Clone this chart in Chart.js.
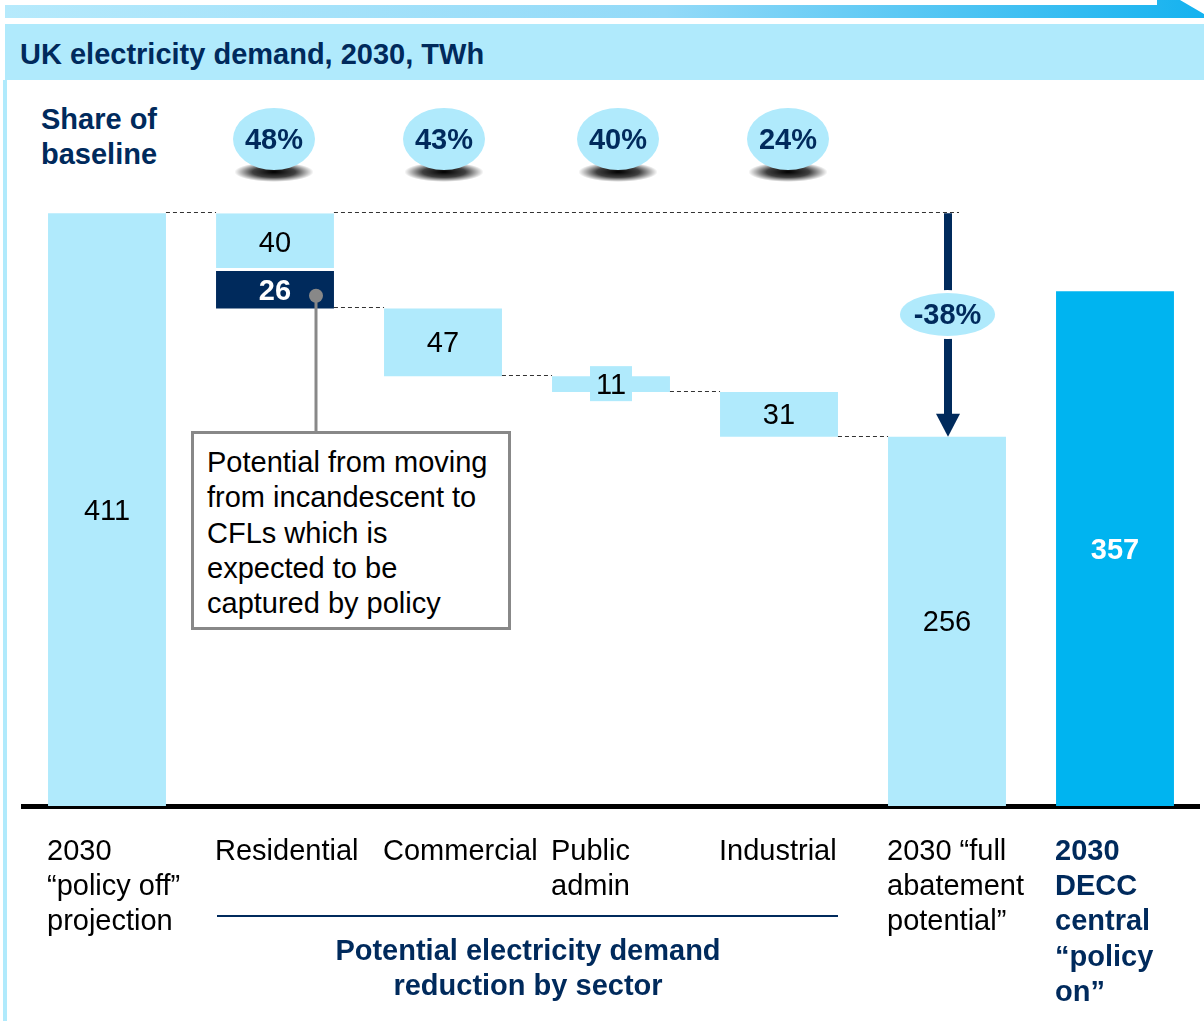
<!DOCTYPE html>
<html>
<head>
<meta charset="utf-8">
<script src="https://cdn.jsdelivr.net/npm/chart.js@4.4.0/dist/chart.umd.min.js"></script>
<style>
  body { margin: 0; width: 1204px; height: 1021px; overflow: hidden; background: #fff;
         font-family: "Liberation Sans", Arial, sans-serif; position: relative; }
  .abs { position: absolute; }
  #topband { left: 5px; top: 0; width: 1199px; height: 18px;
             background: linear-gradient(to right, #b6eafc, #93daf8 55%, #15b2ef);
             clip-path: polygon(0 5px, 1152px 5px, 1152px 0, 1175px 0, 1199px 14px, 1199px 18px, 0 18px); }
  #head { left: 5px; top: 24px; width: 1199px; height: 56px; background: #b0eafc; }
  #title { left: 20px; top: 38px; font-weight: bold; font-size: 29px; color: #002a5c; }
  #leftline { left: 3px; top: 80px; width: 4px; height: 941px; background: #b0eafc; }
  #share { left: 41px; top: 102px; font-weight: bold; font-size: 29px; line-height: 35px; color: #002a5c; }
  .bubble { background: #b0eafc; border-radius: 50%; color: #002a5c; font-weight: bold;
            font-size: 29px; display: flex; align-items: center; justify-content: center; }
  .shadow { border-radius: 50%;
            background: radial-gradient(ellipse at center, rgba(0,0,0,1) 0%, rgba(0,0,0,0.75) 38%, rgba(0,0,0,0) 70%); }
  #callout { left: 191px; top: 431px; width: 314px; height: 193px; border: 3px solid #888; background: #fff;
             font-size: 29px; line-height: 35.3px; color: #000; padding: 0; }
  #callout div { position: absolute; left: 13px; top: 11px; }
  #sectorline { left: 217px; top: 915px; width: 621px; height: 2px; background: #002a5c; }
  #sectornote { left: 278px; top: 933px; width: 500px; text-align: center; font-weight: bold;
                font-size: 29px; line-height: 35px; color: #002a5c; }
  #wrap { left: 0; top: 0; width: 1204px; height: 1021px; }
</style>
</head>
<body>
<div id="topband" class="abs"></div>
<div id="head" class="abs"></div>
<div id="title" class="abs">UK electricity demand, 2030, TWh</div>
<div id="leftline" class="abs"></div>
<div id="share" class="abs">Share of<br>baseline</div>
<div id="wrap" class="abs"><canvas id="chart" width="1204" height="1021"></canvas></div>
<div id="bubbles"></div>
<div id="callout" class="abs"><div>Potential from moving<br>from incandescent to<br>CFLs which is<br>expected to be<br>captured by policy</div></div>
<div id="sectorline" class="abs"></div>
<div id="sectornote" class="abs">Potential electricity demand<br>reduction by sector</div>
<script>
// categories along the bottom
const categories = [
  ['2030', '\u201cpolicy off\u201d', 'projection'],
  ['Residential'],
  ['Commercial'],
  ['Public', 'admin'],
  ['Industrial'],
  ['2030 \u201cfull', 'abatement', 'potential\u201d'],
  ['2030', 'DECC', 'central', '\u201cpolicy', 'on\u201d']
];
// TWh
const totals = [411, null, null, null, null, 256, 357];
const savings = [null, 40, 47, 11, 31, null, null];      // reduction by sector
const cflSavings = [null, 26, null, null, null, null, null]; // CFL part of residential
// share of baseline bubbles (one per sector)
const shares = ['48%', '43%', '40%', '24%'];
const abatementShare = '-38%';

const LIGHT = '#b0eafc', NAVY = '#002a5c', BRIGHT = '#00b4f0';

// build floating bars for the waterfall
let level = totals[0];
const savingBars = [], cflBars = [], levels = [level];
for (let i = 0; i < categories.length; i++) {
  if (savings[i] == null) { savingBars.push(null); cflBars.push(null); continue; }
  const top = level;
  savingBars.push([top - savings[i], top]);
  level = top - savings[i];
  if (cflSavings[i] != null) {
    cflBars.push([level - cflSavings[i], level]);
    level -= cflSavings[i];
  } else cflBars.push(null);
  levels.push(level);
}

const ctx = document.getElementById('chart').getContext('2d');

const waterfallPlugin = {
  id: 'waterfall',
  afterDatasetsDraw(chart) {
    const c = chart.ctx, y = chart.scales.y, x = chart.scales.x;
    const m0 = chart.getDatasetMeta(0).data, m1 = chart.getDatasetMeta(1).data, m2 = chart.getDatasetMeta(2).data;
    const half = m0[0].width / 2;
    const left = i => x.getPixelForValue(i) - half, right = i => x.getPixelForValue(i) + half;
    c.save();
    // dashed connectors
    c.strokeStyle = '#333'; c.lineWidth = 1; c.setLineDash([4, 3]);
    const seg = (x1, x2, v) => { const py = Math.round(y.getPixelForValue(v)) - 0.5; c.beginPath(); c.moveTo(x1, py); c.lineTo(x2, py); c.stroke(); };
    seg(right(0), left(1), totals[0]);
    seg(right(1), x.getPixelForValue(5) + 12, totals[0]);
    for (let i = 1; i <= 4; i++) seg(right(i), left(i + 1), levels[i]);
    c.setLineDash([]);

    // callout pointer
    const b = m2[1];
    const cx = b.x + 41, cy = (b.y + b.base) / 2 + 6;
    c.strokeStyle = '#888'; c.lineWidth = 3;
    c.beginPath(); c.moveTo(cx, cy); c.lineTo(cx, 432); c.stroke();
    c.fillStyle = '#888'; c.beginPath(); c.arc(cx, cy, 7, 0, Math.PI * 2); c.fill();

    // abatement arrow
    const ax = x.getPixelForValue(5) + 1;
    const yTop = y.getPixelForValue(totals[0]), yTip = y.getPixelForValue(totals[5]);
    c.fillStyle = NAVY;
    c.fillRect(ax - 4, yTop, 8, yTip - yTop - 22);
    c.beginPath(); c.moveTo(ax - 12, yTip - 23); c.lineTo(ax + 12, yTip - 23); c.lineTo(ax, yTip); c.closePath(); c.fill();

    // value labels
    c.textAlign = 'center'; c.textBaseline = 'middle';
    const label = (el, txt, bold, color, bg) => {
      const mx = el.x, my = (el.y + el.base) / 2;
      if (bg) { c.fillStyle = LIGHT; c.fillRect(mx - 21, my - 18, 42, 35); }
      c.font = (bold ? 'bold ' : '') + '29px "Liberation Sans", Arial, sans-serif';
      c.fillStyle = color; c.fillText(txt, mx, my + 2);
    };
    totals.forEach((v, i) => { if (v != null) label(m0[i], String(v), i === 6, i === 6 ? '#fff' : '#000'); });
    savings.forEach((v, i) => { if (v != null) label(m1[i], String(v), false, '#000', v < 15); });
    cflSavings.forEach((v, i) => { if (v != null) label(m2[i], String(v), true, '#fff'); });
    c.restore();
  }
};

new Chart(ctx, {
  type: 'bar',
  data: {
    labels: categories,
    datasets: [
      { label: 'Total', data: totals, backgroundColor: totals.map((v, i) => i === 6 ? BRIGHT : LIGHT) },
      { label: 'Reduction', data: savingBars, backgroundColor: LIGHT,
        borderColor: '#fff', borderSkipped: false,
        borderWidth: c => cflSavings[c.dataIndex] != null ? { top: 0, left: 0, right: 0, bottom: 3 } : 0 },
      { label: 'CFL', data: cflBars, backgroundColor: NAVY }
    ]
  },
  options: {
    responsive: false,
    animation: false,
    events: [],
    layout: { padding: { left: 23, right: 5, top: 157, bottom: 15 } },
    datasets: { bar: { categoryPercentage: 1, barPercentage: 0.702 } },
    plugins: { legend: { display: false }, tooltip: { enabled: false } },
    scales: {
      x: {
        stacked: true,
        grid: { display: false, drawTicks: false },
        border: { display: true, color: '#000', width: 5 },
        afterFit: s => { s.height = 200; s.paddingLeft = 0; s.paddingRight = 0; },
        ticks: {
          autoSkip: false, maxRotation: 0, minRotation: 0,
          align: 'start', labelOffset: -60, padding: 28,
          color: c => c.index === 6 ? NAVY : '#000',
          font: c => ({ family: '"Liberation Sans", Arial, sans-serif', size: 29, lineHeight: 1.217, weight: c.index === 6 ? 'bold' : 'normal' })
        }
      },
      y: { display: false, min: 0, max: 450, stacked: false }
    }
  },
  plugins: [waterfallPlugin]
});

// share-of-baseline bubbles above each sector
const bubbleX = [274, 444, 618, 788];
const host = document.getElementById('bubbles');
shares.forEach((s, i) => {
  const sh = document.createElement('div');
  sh.className = 'abs shadow';
  Object.assign(sh.style, { left: (bubbleX[i] - 40) + 'px', top: '162px', width: '80px', height: '20px' });
  host.appendChild(sh);
  const b = document.createElement('div');
  b.className = 'abs bubble';
  Object.assign(b.style, { left: (bubbleX[i] - 41) + 'px', top: '108px', width: '82px', height: '62px' });
  b.textContent = s;
  host.appendChild(b);
});
const ab = document.createElement('div');
ab.className = 'abs bubble';
Object.assign(ab.style, { left: '900px', top: '293px', width: '95px', height: '43px', boxShadow: '0 0 0 3px #fff' });
ab.textContent = abatementShare;
host.appendChild(ab);
</script>
</body>
</html>
